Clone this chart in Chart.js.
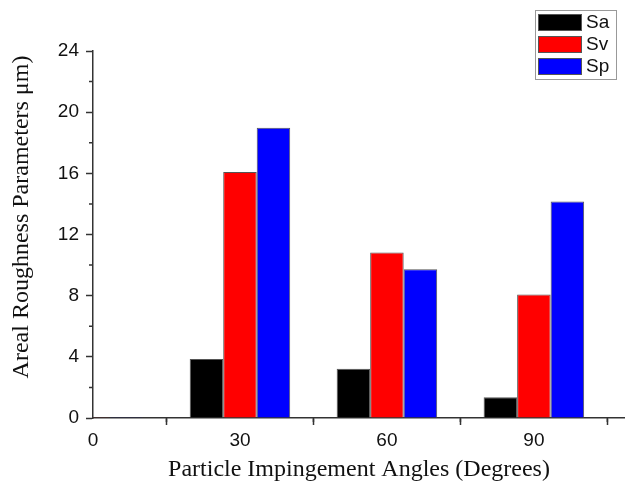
<!DOCTYPE html>
<html>
<head>
<meta charset="utf-8">
<script src="https://cdn.jsdelivr.net/npm/chart.js@4"></script>
<style>
  html, body { margin: 0; background: #fff; }
  #wrap { width: 625px; height: 488px; position: relative; }
</style>
</head>
<body>
<div id="wrap"><canvas id="chart"></canvas></div>
<script>
// values
const angles = [0, 30, 60, 90];
const saValues = [0.05, 3.86, 3.22, 1.35];
const svValues = [0.05, 16.08, 10.83, 8.08];
const spValues = [0.05, 18.98, 9.72, 14.16];
const seriesNames = ['Sa', 'Sv', 'Sp'];
const seriesColors = ['#000000', '#ff0000', '#0000ff'];
const xTickLabels = ['0', '30', '60', '90'];
const yTickLabels = ['0', '4', '8', '12', '16', '20', '24'];
const xTitle = 'Particle Impingement Angles (Degrees)';
const yTitle = 'Areal Roughness Parameters μm)';

const sans = '"Liberation Sans", Arial, sans-serif';
const serif = '"Liberation Serif", "Times New Roman", serif';
const axisColor = '#333';

const toPoints = vals => angles.map((a, i) => ({ x: a, y: vals[i] }));

// small ticks between the labelled ones
const minorTicks = {
  id: 'minorTicks',
  afterDraw(chart) {
    const { ctx, scales: { x, y } } = chart;
    ctx.save();
    ctx.strokeStyle = axisColor;
    ctx.lineWidth = 1.5;
    ctx.beginPath();
    for (let v = 15; v < x.max; v += 30) {
      const px = x.getPixelForValue(v);
      ctx.moveTo(px, y.bottom);
      ctx.lineTo(px, y.bottom + 4);
    }
    for (let v = 2; v < y.max; v += 4) {
      const py = y.getPixelForValue(v);
      ctx.moveTo(x.left, py);
      ctx.lineTo(x.left - 4, py);
    }
    ctx.stroke();
    ctx.restore();
  }
};

// y title sits a bit above the axis centre in the original, so draw it here
const yTitlePlugin = {
  id: 'yTitle',
  afterDraw(chart) {
    const ctx = chart.ctx;
    ctx.save();
    ctx.translate(22, 217);
    ctx.rotate(-Math.PI / 2);
    ctx.font = '24px ' + serif;
    ctx.fillStyle = '#111';
    ctx.textAlign = 'center';
    ctx.textBaseline = 'middle';
    ctx.fillText(yTitle, 0, 0);
    ctx.restore();
  }
};

// boxed legend in the top right corner
const boxLegend = {
  id: 'boxLegend',
  afterDraw(chart) {
    const ctx = chart.ctx;
    ctx.save();
    ctx.strokeStyle = '#999';
    ctx.lineWidth = 1;
    ctx.strokeRect(535.5, 10.5, 81, 69);
    ctx.font = '19px ' + sans;
    ctx.textBaseline = 'middle';
    chart.data.datasets.forEach((ds, i) => {
      const top = 14 + i * 22;
      ctx.fillStyle = ds.backgroundColor;
      ctx.fillRect(538, top, 44, 17);
      ctx.strokeStyle = '#555';
      ctx.strokeRect(538.5, top + 0.5, 43, 16);
      ctx.fillStyle = '#111';
      ctx.fillText(ds.label, 586, top + 9);
    });
    ctx.restore();
  }
};

new Chart(document.getElementById('chart'), {
  type: 'bar',
  data: {
    datasets: [saValues, svValues, spValues].map((vals, i) => ({
      label: seriesNames[i],
      data: toPoints(vals),
      backgroundColor: seriesColors[i],
      borderColor: '#555',
      borderWidth: 1,
      barPercentage: 1,
      categoryPercentage: 0.684
    }))
  },
  options: {
    responsive: true,
    maintainAspectRatio: false,
    animation: false,
    layout: { padding: { top: 51, left: 0, right: 0, bottom: 0 } },
    plugins: {
      legend: { display: false },
      tooltip: { enabled: false }
    },
    scales: {
      x: {
        type: 'linear',
        min: 0,
        max: 108.6,
        offset: false,
        afterFit(s) { s.height = 70; },
        border: { display: true, color: axisColor, width: 1.5 },
        grid: { drawOnChartArea: false, tickLength: 7, tickColor: axisColor, tickWidth: 1.5 },
        ticks: {
          stepSize: 30,
          includeBounds: false,
          padding: 4,
          color: '#111',
          font: { family: sans, size: 19 },
          callback: v => xTickLabels.includes(String(v)) ? String(v) : ''
        },
        title: {
          display: true,
          text: xTitle,
          color: '#111',
          font: { family: serif, size: 24 },
          padding: { top: 0, bottom: 4 }
        }
      },
      y: {
        min: 0,
        max: 24,
        afterFit(s) { s.width = 93; },
        border: { display: true, color: axisColor, width: 1.5 },
        grid: { drawOnChartArea: false, tickLength: 7, tickColor: axisColor, tickWidth: 1.5 },
        ticks: {
          stepSize: 4,
          padding: 7,
          color: '#111',
          font: { family: sans, size: 19 },
          callback: v => yTickLabels.includes(String(v)) ? String(v) : ''
        }
      }
    }
  },
  plugins: [minorTicks, yTitlePlugin, boxLegend]
});
</script>
</body>
</html>
